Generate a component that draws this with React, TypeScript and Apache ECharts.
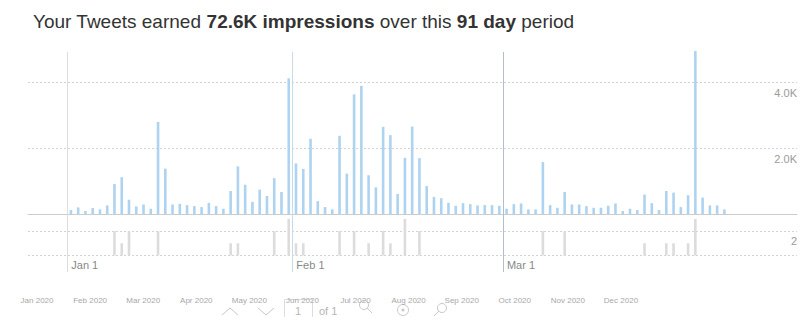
import React, { useEffect, useRef } from 'react';
import * as echarts from 'echarts';

// Daily impressions, Jan 1 – Mar 31 2020 (91 days)
const impressions = [
  120, 200, 90, 180, 140, 260, 910, 1120, 430, 230,
  290, 160, 2800, 1380, 290, 310, 270, 240, 210, 340,
  240, 160, 700, 1450, 890, 370, 740, 550, 1090, 670,
  4130, 1540, 1370, 2290, 390, 210, 140, 2380, 1230, 3640,
  3900, 1180, 810, 2650, 2400, 610, 1710, 2660, 1700, 850,
  520, 480, 340, 250, 330, 300, 260, 270, 270, 250,
  160, 300, 320, 140, 140, 1580, 270, 190, 670, 290,
  290, 240, 190, 190, 250, 320, 90, 160, 120, 590,
  330, 120, 700, 650, 210, 570, 4960, 500, 260, 260, 140,
];

// Daily tweets / small secondary series
const tweets = [
  0, 0, 0, 0, 0, 0, 2, 1, 2, 0,
  0, 0, 2, 0, 0, 0, 0, 0, 0, 0,
  0, 0, 1, 1, 0, 0, 0, 0, 2, 0,
  3, 1, 1, 0, 0, 0, 0, 2, 0, 2,
  0, 1, 0, 2, 1, 0, 3, 0, 2, 0,
  0, 0, 0, 0, 0, 0, 0, 0, 0, 0,
  0, 0, 0, 0, 0, 2, 0, 0, 2, 0,
  0, 0, 0, 0, 0, 0, 0, 0, 0, 1,
  0, 0, 1, 1, 0, 1, 3, 0, 0, 0, 0,
];

const markerDays = [0, 31, 60];
const markerLabels = ['Jan 1', 'Feb 1', 'Mar 1'];
const markerColors = ['#dddddd', '#c6dced', '#b3bec8'];

const monthLabels = [
  'Jan 2020', 'Feb 2020', 'Mar 2020', 'Apr 2020', 'May 2020', 'Jun 2020',
  'Jul 2020', 'Aug 2020', 'Sep 2020', 'Oct 2020', 'Nov 2020', 'Dec 2020',
];

const TITLE = 'Your Tweets earned {b|72.6K impressions} over this {b|91 day} period';

const X_MIN = -5.41;
const X_MAX = 100.5;
const FONT = '"Liberation Sans", Arial, Helvetica, sans-serif';
const GRID_DASH = { color: '#d2d2d2', type: [2, 2] as any, width: 1 };

export default function App() {
  const ref = useRef<HTMLDivElement>(null);

  useEffect(() => {
    if (!ref.current) return;
    const chart = echarts.init(ref.current, null, { renderer: 'svg' });
    const hiddenX = (gridIndex: number) => ({
      gridIndex,
      type: 'value',
      min: X_MIN,
      max: X_MAX,
      axisLine: { show: false },
      axisTick: { show: false },
      axisLabel: { show: false },
      splitLine: { show: false },
    });

    const option: any = {
      animation: false,
      textStyle: { fontFamily: FONT },
      title: {
        text: TITLE,
        left: 28,
        top: 7,
        textStyle: {
          fontFamily: FONT,
          fontSize: 19,
          fontWeight: 'normal',
          color: '#333',
          rich: {
            b: { fontFamily: FONT, fontSize: 19, fontWeight: 'bold', color: '#333' },
          },
        },
      },
      grid: [
        { left: 28, right: 3, top: 51, bottom: 103 },
        { left: 28, right: 3, top: 218.9, bottom: 61.5 },
        { left: 28, right: 3, top: 52, bottom: 45 },
        { left: 10.5, right: 152.5, top: 294, height: 1 },
      ],
      xAxis: [
        {
          ...hiddenX(0),
          axisLine: { show: true, onZero: false, lineStyle: { color: '#cccccc', width: 1 } },
        },
        hiddenX(1),
        {
          ...hiddenX(2),
          axisLabel: {
            show: true,
            customValues: markerDays,
            formatter: (v: number) => markerLabels[markerDays.indexOf(v)] ?? '',
            inside: true,
            align: 'left',
            verticalAlign: 'bottom',
            padding: [0, 0, 0, 4],
            margin: 2,
            color: '#888',
            fontSize: 11,
          },
        },
        {
          gridIndex: 3,
          type: 'category',
          data: monthLabels,
          axisLine: { show: false },
          axisTick: { show: false },
          splitLine: { show: false },
          axisLabel: { interval: 0, fontSize: 8, color: '#a8a8a8', margin: 1 },
        },
      ],
      yAxis: [
        {
          gridIndex: 0,
          type: 'value',
          position: 'right',
          min: 0,
          max: 'dataMax',
          interval: 2000,
          axisLine: { show: false },
          axisTick: { show: false },
          splitLine: { show: true, showMinLine: false, showMaxLine: false, lineStyle: GRID_DASH },
          axisLabel: {
            inside: true,
            margin: 0,
            showMinLabel: false,
            showMaxLabel: false,
            verticalAlign: 'top',
            padding: [5, 0, 0, 0],
            color: '#9a9a9a',
            fontSize: 11,
            formatter: (v: number) => (v / 1000).toFixed(1) + 'K',
          },
        },
        {
          gridIndex: 1,
          type: 'value',
          position: 'right',
          min: 0,
          max: 3,
          interval: 2,
          axisLine: { show: false },
          axisTick: { show: false },
          splitLine: { show: true, showMinLine: true, showMaxLine: false, lineStyle: GRID_DASH },
          axisLabel: {
            inside: true,
            margin: 0,
            showMinLabel: false,
            showMaxLabel: false,
            verticalAlign: 'top',
            padding: [4, 0, 0, 0],
            color: '#9a9a9a',
            fontSize: 11,
          },
        },
        { gridIndex: 2, type: 'value', min: 0, max: 1, show: false },
        { gridIndex: 3, type: 'value', min: 0, max: 1, show: false },
      ],
      series: [
        {
          name: 'Impressions',
          type: 'bar',
          xAxisIndex: 0,
          yAxisIndex: 0,
          barWidth: 2.6,
          itemStyle: { color: '#aed3f0' },
          data: impressions.map((v, i) => [i + 0.5, v]),
        },
        {
          name: 'Tweets',
          type: 'bar',
          xAxisIndex: 1,
          yAxisIndex: 1,
          barWidth: 2.6,
          itemStyle: { color: '#dcdcdc' },
          data: tweets.map((v, i) => [i + 0.5, v]),
        },
        {
          name: 'Months',
          type: 'line',
          xAxisIndex: 2,
          yAxisIndex: 2,
          data: [],
          markLine: {
            silent: true,
            symbol: 'none',
            label: { show: false },
            lineStyle: { type: 'solid', width: 1 },
            data: markerDays.map((d, k) => ({ xAxis: d, lineStyle: { color: markerColors[k], type: 'solid', width: 1 } })),
          },
        },
      ],
      graphic: [
        { type: 'polyline', shape: { points: [[222, 315], [230, 308], [238, 315]] }, style: { stroke: '#c8c8c8', fill: null, lineWidth: 1 } },
        { type: 'polyline', shape: { points: [[258, 308], [266, 315], [274, 308]] }, style: { stroke: '#c8c8c8', fill: null, lineWidth: 1 } },
        { type: 'rect', shape: { x: 284.5, y: 299.5, width: 28, height: 20 }, style: { fill: null, stroke: '#dddddd', lineWidth: 1 } },
        { type: 'text', x: 298, y: 311, style: { text: '1', fill: '#b5b5b5', fontSize: 11, align: 'center', verticalAlign: 'middle', fontFamily: FONT } },
        { type: 'text', x: 319, y: 311, style: { text: 'of 1', fill: '#b5b5b5', fontSize: 11, verticalAlign: 'middle', fontFamily: FONT } },
        { type: 'circle', shape: { cx: 364, cy: 305, r: 4.5 }, style: { fill: null, stroke: '#c8c8c8', lineWidth: 1 } },
        { type: 'line', shape: { x1: 367, y1: 308, x2: 372, y2: 313 }, style: { stroke: '#c8c8c8', lineWidth: 1 } },
        { type: 'circle', shape: { cx: 403, cy: 310, r: 5.5 }, style: { fill: null, stroke: '#c8c8c8', lineWidth: 1 } },
        { type: 'circle', shape: { cx: 403, cy: 310, r: 1.5 }, style: { fill: '#c8c8c8' } },
        { type: 'circle', shape: { cx: 442, cy: 308, r: 4.5 }, style: { fill: null, stroke: '#c8c8c8', lineWidth: 1 } },
        { type: 'line', shape: { x1: 439, y1: 311, x2: 434, y2: 316 }, style: { stroke: '#c8c8c8', lineWidth: 1 } },
      ],
    };
    chart.setOption(option);
    return () => chart.dispose();
  }, []);

  return (
    <div
      ref={ref}
      style={{ position: 'absolute', left: 0, top: 0, width: 800, height: 317, background: '#fff' }}
    />
  );
}
